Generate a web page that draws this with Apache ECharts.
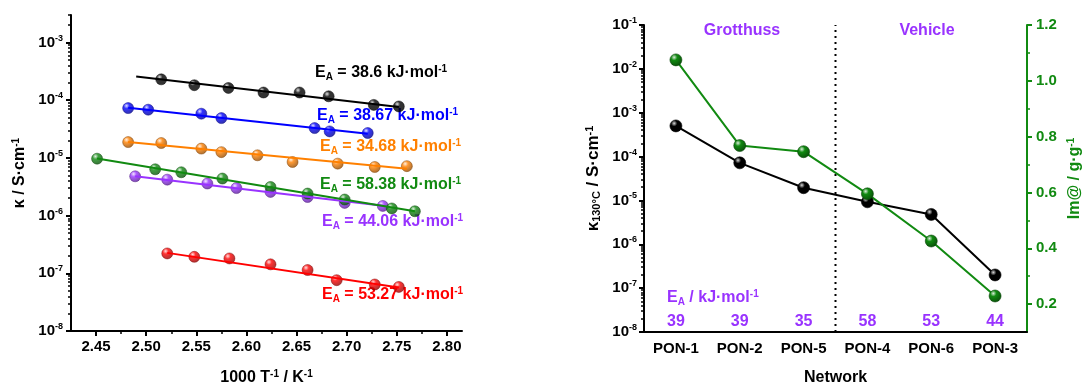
<!DOCTYPE html>
<html>
<head>
<meta charset="utf-8">
<script src="https://cdn.jsdelivr.net/npm/echarts@6/dist/echarts.min.js"></script>
<style>
  html, body { margin: 0; padding: 0; background: #ffffff; }
  #chart { width: 1083px; height: 385px; }
</style>
</head>
<body>
<div id="chart"></div>
<script>
// ---- Arrhenius plot: 1000/T (K^-1) vs conductivity (S/cm) ----
const blackX  = [2.515, 2.548, 2.582, 2.617, 2.653, 2.682, 2.727, 2.752];
const blackY  = [2.3e-4, 1.82e-4, 1.63e-4, 1.36e-4, 1.36e-4, 1.17e-4, 8.3e-5, 7.8e-5];
const blueX   = [2.482, 2.502, 2.555, 2.575, 2.668, 2.683, 2.721];
const blueY   = [7.3e-5, 6.85e-5, 5.84e-5, 4.9e-5, 3.29e-5, 2.88e-5, 2.7e-5];
const orangeX = [2.482, 2.515, 2.555, 2.575, 2.611, 2.646, 2.691, 2.728, 2.760];
const orangeY = [1.88e-5, 1.81e-5, 1.45e-5, 1.26e-5, 1.11e-5, 8.5e-6, 7.96e-6, 6.96e-6, 7.2e-6];
const greenX  = [2.451, 2.509, 2.535, 2.576, 2.624, 2.661, 2.698, 2.745, 2.768];
const greenY  = [9.7e-6, 6.35e-6, 5.64e-6, 4.39e-6, 3.14e-6, 2.41e-6, 1.9e-6, 1.33e-6, 1.19e-6];
const purpleX = [2.489, 2.521, 2.561, 2.590, 2.624, 2.661, 2.698, 2.736];
const purpleY = [4.8e-6, 4.2e-6, 3.6e-6, 3.0e-6, 2.57e-6, 2.1e-6, 1.66e-6, 1.47e-6];
const redX    = [2.521, 2.548, 2.583, 2.624, 2.661, 2.690, 2.728, 2.752];
const redY    = [2.21e-7, 1.93e-7, 1.81e-7, 1.43e-7, 1.14e-7, 7.6e-8, 6.4e-8, 5.8e-8];

// Linear fits (end points) of log(kappa) vs 1000/T
const blackFitX  = [2.490, 2.752]; const blackFitY  = [2.58e-4, 7.6e-5];
const blueFitX   = [2.482, 2.721]; const blueFitY   = [7.4e-5, 2.63e-5];
const orangeFitX = [2.482, 2.760]; const orangeFitY = [1.88e-5, 6.5e-6];
const greenFitX  = [2.451, 2.768]; const greenFitY  = [9.8e-6, 1.19e-6];
const purpleFitX = [2.489, 2.736]; const purpleFitY = [4.8e-6, 1.48e-6];
const redFitX    = [2.521, 2.752]; const redFitY    = [2.26e-7, 5.7e-8];

// Activation energies written next to each fit (kJ/mol)
const fitEA = ['38.6', '38.67', '34.68', '58.38', '44.06', '53.27'];

// ---- Network comparison ----
const networks = ['PON-1', 'PON-2', 'PON-5', 'PON-4', 'PON-6', 'PON-3'];
const kappa130 = [5.0e-4, 7.2e-5, 1.95e-5, 9.3e-6, 4.8e-6, 2.0e-7];
const uptake   = [1.075, 0.768, 0.746, 0.595, 0.426, 0.229];
const eaValues = [39, 39, 35, 58, 53, 44];
const grotthussCount = 3;   // networks left of the divider

// ---- Tick values ----
const leftXMajor  = [2.45, 2.50, 2.55, 2.60, 2.65, 2.70, 2.75, 2.80];
const leftXMinor  = [2.475, 2.525, 2.575, 2.625, 2.675, 2.725, 2.775];
const leftYDecades  = [1e-8, 1e-7, 1e-6, 1e-5, 1e-4, 1e-3];
const rightYDecades = [1e-8, 1e-7, 1e-6, 1e-5, 1e-4, 1e-3, 1e-2, 1e-1];
const uptakeMajor = [0.2, 0.4, 0.6, 0.8, 1.0, 1.2];
const uptakeMinor = [0.3, 0.5, 0.7, 0.9, 1.1];

const FONT = '"Liberation Sans", Arial, sans-serif';
const C = {
  black: '#000000', blue: '#0000ff', orange: '#ff8000',
  green: '#118a11', purple: '#9933ff', red: '#ff0000'
};

function logMinors(decades) {
  const out = [];
  for (let i = 0; i < decades.length - 1; i++) {
    for (let m = 2; m <= 9; m++) out.push(+(decades[i] * m).toPrecision(3));
  }
  return out;
}
const leftYMinor = logMinors(leftYDecades.concat([1e-2])).filter(v => v <= 3e-3);
const rightYMinor = logMinors(rightYDecades);

function hexToRgb(h) {
  const n = parseInt(h.slice(1), 16);
  return [(n >> 16) & 255, (n >> 8) & 255, n & 255];
}
function mix(a, b, t) {
  const x = hexToRgb(a), y = hexToRgb(b);
  const c = x.map((v, i) => Math.round(v + (y[i] - v) * t));
  return 'rgb(' + c.join(',') + ')';
}
function sphere(c) {
  return new echarts.graphic.RadialGradient(0.36, 0.3, 0.7, [
    { offset: 0, color: mix(c, '#ffffff', 0.85) },
    { offset: 0.35, color: c },
    { offset: 1, color: mix(c, '#000000', 0.4) }
  ]);
}

// rich text styles: b = base, sup = superscript, sub = subscript
function richSet(size, color, supLH, subLH, lh) {
  const small = Math.round(size * 0.62);
  const base = { fontFamily: FONT, fontWeight: 'bold', color: color, fill: color };
  return {
    b: Object.assign({}, base, { fontSize: size, lineHeight: lh || 18, verticalAlign: 'middle' }),
    sup: Object.assign({}, base, { fontSize: small, lineHeight: supLH, verticalAlign: 'top' }),
    sub: Object.assign({}, base, { fontSize: small, lineHeight: subLH, verticalAlign: 'bottom' })
  };
}

function pow10Label(v) {
  const e = Math.round(Math.log10(v));
  return '{b|10}{sup|' + e + '}';
}

function pairs(xs, ys) { return xs.map((x, i) => [x, ys[i]]); }

const arrheniusSets = [
  { fx: blackFitX,  fy: blackFitY,  x: blackX,  y: blackY,  c: C.black },
  { fx: blueFitX,   fy: blueFitY,   x: blueX,   y: blueY,   c: C.blue },
  { fx: orangeFitX, fy: orangeFitY, x: orangeX, y: orangeY, c: C.orange },
  { fx: purpleFitX, fy: purpleFitY, x: purpleX, y: purpleY, c: C.purple },
  { fx: greenFitX,  fy: greenFitY,  x: greenX,  y: greenY,  c: C.green },
  { fx: redFitX,    fy: redFitY,    x: redX,    y: redY,    c: C.red }
];

const series = [];
arrheniusSets.forEach(s => {
  series.push({
    type: 'line', xAxisIndex: 0, yAxisIndex: 0,
    data: pairs(s.fx, s.fy), showSymbol: false, silent: true,
    lineStyle: { color: s.c, width: 2 }
  });
});
arrheniusSets.forEach(s => {
  series.push({
    type: 'scatter', xAxisIndex: 0, yAxisIndex: 0,
    data: pairs(s.x, s.y), symbol: 'circle', symbolSize: 11,
    itemStyle: { color: sphere(s.c), borderColor: mix(s.c, '#000000', 0.5), borderWidth: 0.6 }
  });
});

// divider between Grotthuss and vehicle networks
series.push({
  type: 'line', xAxisIndex: 5, yAxisIndex: 2, silent: true, showSymbol: false,
  data: [[grotthussCount, rightYDecades[0]], [grotthussCount, rightYDecades[rightYDecades.length - 1]]],
  lineStyle: { color: '#000', width: 2, type: [2, 4] }
});
series.push({
  type: 'line', xAxisIndex: 2, yAxisIndex: 2,
  data: kappa130, symbol: 'circle', symbolSize: 12, showSymbol: true,
  lineStyle: { color: C.black, width: 2 },
  itemStyle: { color: sphere(C.black), borderColor: '#000', borderWidth: 0.6 }
});
series.push({
  type: 'line', xAxisIndex: 2, yAxisIndex: 4,
  data: uptake, symbol: 'circle', symbolSize: 12, showSymbol: true,
  lineStyle: { color: C.green, width: 2 },
  itemStyle: { color: sphere(C.green), borderColor: mix(C.green, '#000000', 0.5), borderWidth: 0.6 }
});

const axisBlack = { lineStyle: { color: '#000', width: 2 } };
const lblBlack = { fontSize: 15, fontWeight: 'bold', fontFamily: FONT, color: '#000' };

const option = {
  animation: false,
  backgroundColor: '#ffffff',
  textStyle: { fontFamily: FONT },
  grid: [
    { left: 71, top: 15, width: 391, height: 316, outerBoundsMode: 'none' },
    { left: 644, top: 25, width: 383, height: 307, outerBoundsMode: 'none' }
  ],
  xAxis: [
    { // 0: 1000/T
      type: 'value', gridIndex: 0, position: 'bottom',
      min: 2.425, max: 2.815, interval: 0.025,
      axisLine: axisBlack,
      axisTick: { customValues: leftXMajor, length: 5, lineStyle: { color: '#000', width: 2 } },
      axisLabel: Object.assign({ customValues: leftXMajor, margin: 8, formatter: v => v.toFixed(2) }, lblBlack),
      splitLine: { show: false },
      name: '{b|1000 T}{sup|-1}{b| / K}{sup|-1}', nameLocation: 'middle', nameGap: 38,
      nameTextStyle: { rich: richSet(16, '#000', 9, 1) }
    },
    { // 1: minor ticks
      type: 'value', gridIndex: 0, position: 'bottom',
      min: 2.425, max: 2.815, interval: 0.025,
      axisLine: { show: false },
      axisTick: { customValues: leftXMinor, length: 3, lineStyle: { color: '#000', width: 1.5 } },
      axisLabel: { show: false }, splitLine: { show: false }
    },
    { // 2: networks
      type: 'category', gridIndex: 1, position: 'bottom', data: networks, boundaryGap: true,
      axisLine: axisBlack,
      axisTick: { alignWithLabel: true, length: 5, lineStyle: { color: '#000', width: 2 } },
      axisLabel: Object.assign({ interval: 0, margin: 9 }, lblBlack),
      name: 'Network', nameLocation: 'middle', nameGap: 38,
      nameTextStyle: { fontSize: 16, fontWeight: 'bold', color: '#000' }
    },
    { // 3: boundary ticks
      type: 'category', gridIndex: 1, position: 'bottom', data: networks, boundaryGap: true,
      axisLine: { show: false },
      axisTick: { length: 3, interval: 0, lineStyle: { color: '#000', width: 1.5 } },
      axisLabel: { show: false }
    },
    { // 4: activation energies above the axis
      type: 'category', gridIndex: 1, position: 'bottom', data: networks, boundaryGap: true,
      axisLine: { show: false }, axisTick: { show: false },
      axisLabel: {
        inside: true, interval: 0, margin: 2,
        formatter: (v, i) => String(eaValues[i]),
        fontSize: 16, fontWeight: 'bold', fontFamily: FONT, color: C.purple
      }
    },
    { // 5: hidden linear axis for the divider
      type: 'value', gridIndex: 1, position: 'top', min: 0, max: networks.length, show: false
    }
  ],
  yAxis: [
    { // 0: conductivity
      type: 'log', logBase: 10, gridIndex: 0, position: 'left', min: 1e-8, max: 3e-3,
      axisLine: axisBlack,
      axisTick: { customValues: leftYDecades, length: 5, lineStyle: { color: '#000', width: 2 } },
      axisLabel: { customValues: leftYDecades, margin: 8, formatter: pow10Label, rich: richSet(15, '#000', 9, 1) },
      splitLine: { show: false },
      name: '{b|κ / S·cm}{sup|-1}', nameLocation: 'middle', nameGap: 42, nameRotate: 90,
      nameTextStyle: { rich: richSet(16, '#000', 8, 1) }
    },
    { // 1: minor log ticks
      type: 'log', logBase: 10, gridIndex: 0, position: 'left', min: 1e-8, max: 3e-3,
      axisLine: { show: false },
      axisTick: { customValues: leftYMinor, length: 3, lineStyle: { color: '#000', width: 1.5 } },
      axisLabel: { show: false }, splitLine: { show: false }
    },
    { // 2: conductivity at 130 °C
      type: 'log', logBase: 10, gridIndex: 1, position: 'left', min: 1e-8, max: 1e-1,
      axisLine: axisBlack,
      axisTick: { customValues: rightYDecades, length: 5, lineStyle: { color: '#000', width: 2 } },
      axisLabel: { customValues: rightYDecades, margin: 7, formatter: pow10Label, rich: richSet(15, '#000', 9, 1) },
      splitLine: { show: false },
      name: '{b|κ}{sub|130°C}{b| / S·cm}{sup|-1}', nameLocation: 'middle', nameGap: 42, nameRotate: 90,
      nameTextStyle: { rich: richSet(17, '#000', 8, 1) }
    },
    { // 3: minor log ticks
      type: 'log', logBase: 10, gridIndex: 1, position: 'left', min: 1e-8, max: 1e-1,
      axisLine: { show: false },
      axisTick: { customValues: rightYMinor, length: 3, lineStyle: { color: '#000', width: 1.5 } },
      axisLabel: { show: false }, splitLine: { show: false }
    },
    { // 4: water uptake
      type: 'value', gridIndex: 1, position: 'right', min: 0.1, max: 1.2, interval: 0.1,
      axisLine: { lineStyle: { color: C.green, width: 2 } },
      axisTick: { customValues: uptakeMajor, length: 5, lineStyle: { color: C.green, width: 2 } },
      axisLabel: {
        customValues: uptakeMajor, margin: 9, formatter: v => v.toFixed(1),
        fontSize: 15, fontWeight: 'bold', fontFamily: FONT, color: C.green
      },
      splitLine: { show: false },
      name: '{b|Im@ / g·g}{sup|-1}', nameLocation: 'middle', nameGap: 39, nameRotate: 90,
      nameTextStyle: { rich: richSet(16, C.green, 8, 1) }
    },
    { // 5: minor ticks
      type: 'value', gridIndex: 1, position: 'right', min: 0.1, max: 1.2, interval: 0.1,
      axisLine: { show: false },
      axisTick: { customValues: uptakeMinor, length: 3, lineStyle: { color: C.green, width: 1.5 } },
      axisLabel: { show: false }, splitLine: { show: false }
    }
  ],
  graphic: [],
  series: series
};

// E_A annotations beside each fit line
const annColors = [C.black, C.blue, C.orange, C.green, C.purple, C.red];
const annPos = [[315, 73], [317, 116], [320, 147], [320, 185], [322, 222], [322, 295]];
fitEA.forEach((ea, i) => {
  option.graphic.push({
    type: 'text', x: annPos[i][0], y: annPos[i][1], silent: true,
    style: {
      text: '{b|E}{sub|A}{b| = ' + ea + ' kJ·mol}{sup|-1}',
      rich: richSet(16, annColors[i], 5, 1),
      align: 'left', verticalAlign: 'middle'
    }
  });
});
option.graphic.push(
  { type: 'text', x: 742, y: 31, silent: true,
    style: { text: 'Grotthuss', fill: C.purple, font: 'bold 16px ' + FONT, align: 'center', verticalAlign: 'middle' } },
  { type: 'text', x: 927, y: 31, silent: true,
    style: { text: 'Vehicle', fill: C.purple, font: 'bold 16px ' + FONT, align: 'center', verticalAlign: 'middle' } },
  { type: 'text', x: 667, y: 298, silent: true,
    style: { text: '{b|E}{sub|A}{b| / kJ·mol}{sup|-1}', rich: richSet(16, C.purple, 5, 1), align: 'left', verticalAlign: 'middle' } }
);

const chart = echarts.init(document.getElementById('chart'), null, { renderer: 'canvas' });
chart.setOption(option);
</script>
</body>
</html>
